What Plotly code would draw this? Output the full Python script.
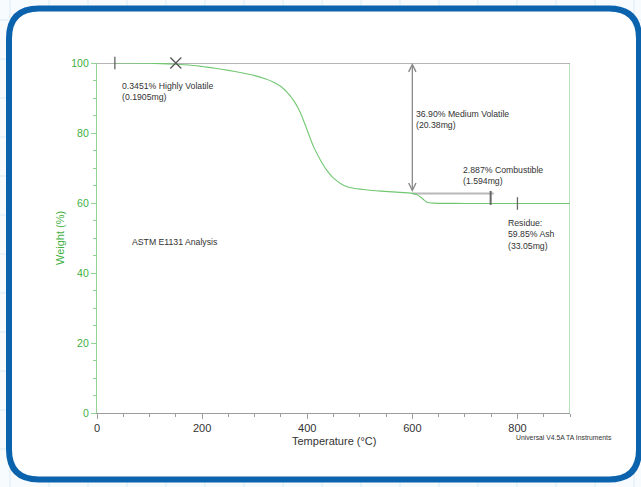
import plotly.graph_objects as go

# TGA trace: temperature (°C) vs. weight (%)
temperature = [35, 100, 150, 175, 200, 225, 250, 275, 300, 320, 335, 350, 362, 375, 387,
               400, 412, 425, 437, 450, 469, 488, 510, 540, 570, 600, 608, 615, 622,
               628, 640, 660, 700, 800, 900]
weight = [100.0, 99.95, 99.65, 99.45, 99.0, 98.5, 97.9, 97.2, 96.4, 95.5, 94.6, 93.3,
          91.6, 89.1, 85.8, 80.8, 76.1, 72.3, 69.4, 67.1, 65.1, 64.2, 63.8, 63.4, 63.1,
          62.75, 62.4, 61.8, 60.9, 60.2, 59.95, 59.9, 59.87, 59.86, 59.85]

# ASTM E1131 step analysis
step_start_temp = 34
step_temps = [150, 600, 750, 800]          # end of each region
step_levels = [100.0, 99.65, 62.75, 59.86]  # plateau weights
step_names = ["Highly Volatile", "Medium Volatile", "Combustible"]
step_pct = ["0.3451%", "36.90%", "2.887%"]
step_mg = ["0.1905mg", "20.38mg", "1.594mg"]
residue_pct = "59.85%"
residue_mg = "33.05mg"

x_ticks = [0, 200, 400, 600, 800]
y_ticks = [0, 20, 40, 60, 80, 100]
x_range = [0, 900]
y_range = [0, 100]

W, H = 641, 487
ML, MR, MT, MB = 97, 71, 63, 74
PW, PH = W - ML - MR, H - MT - MB


def px(x):
    return (x - ML) / PW


def py(y):
    return (H - MB - y) / PH


GREEN_AX = "#93d393"
GREEN_TXT = "#3fb03f"
GREEN_LINE = "#72c872"
GRAY = "#9c9c9c"
TXT = "#333333"
FONT = "Liberation Sans, Arial, sans-serif"

fig = go.Figure()

shapes = []
# graph-paper backdrop
for gx in range(10, W + 40, 39):
    shapes.append(dict(type="line", xref="paper", yref="paper", x0=px(gx), x1=px(gx),
                       y0=py(0), y1=py(H), line=dict(color="#d9ecf7", width=1), layer="below"))
for gy in range(20, H + 40, 39):
    shapes.append(dict(type="line", xref="paper", yref="paper", x0=px(0), x1=px(W),
                       y0=py(gy), y1=py(gy), line=dict(color="#d9ecf7", width=1), layer="below"))

# rounded white card with blue frame
cx0, cy0, cx1, cy1, r = 9, 8.5, 639, 479.5, 30
card = (f"M {px(cx0 + r)},{py(cy0)} L {px(cx1 - r)},{py(cy0)} "
        f"Q {px(cx1)},{py(cy0)} {px(cx1)},{py(cy0 + r)} "
        f"L {px(cx1)},{py(cy1 - r)} Q {px(cx1)},{py(cy1)} {px(cx1 - r)},{py(cy1)} "
        f"L {px(cx0 + r)},{py(cy1)} Q {px(cx0)},{py(cy1)} {px(cx0)},{py(cy1 - r)} "
        f"L {px(cx0)},{py(cy0 + r)} Q {px(cx0)},{py(cy0)} {px(cx0 + r)},{py(cy0)} Z")
shapes.append(dict(type="path", xref="paper", yref="paper", path=card,
                   fillcolor="white", line=dict(color="#0b62ad", width=6), layer="below"))

# frame pieces of the plot
shapes.append(dict(type="line", xref="x", yref="y", x0=x_range[1], x1=x_range[1],
                   y0=y_range[0], y1=y_range[1], line=dict(color=GREEN_AX, width=1.3), layer="below"))
shapes.append(dict(type="line", xref="x", yref="y", x0=x_range[0], x1=x_range[1],
                   y0=step_levels[0], y1=step_levels[0], line=dict(color=GRAY, width=1.6), layer="below"))
shapes.append(dict(type="line", xref="x", yref="y", x0=step_temps[1], x1=step_temps[2] + 5,
                   y0=step_levels[2], y1=step_levels[2], line=dict(color="#b8b8b8", width=2), layer="below"))

fig.add_trace(go.Scatter(x=temperature, y=weight, mode="lines",
                         line=dict(color=GREEN_LINE, width=1.1, shape="spline", smoothing=0.6),
                         hoverinfo="skip", cliponaxis=False))

# step markers
marker_kw = dict(mode="markers", cliponaxis=False, hoverinfo="skip")
fig.add_trace(go.Scatter(x=[step_start_temp], y=[step_levels[0]],
                         marker=dict(symbol="line-ns", size=9, line=dict(color="#555", width=1.2)),
                         **marker_kw))
fig.add_trace(go.Scatter(x=[step_temps[0]], y=[step_levels[0]],
                         marker=dict(symbol="x-thin", size=11, line=dict(color="#555", width=1.2)),
                         **marker_kw))
fig.add_trace(go.Scatter(x=[step_temps[2] - 1], y=[step_levels[2] - 1.3],
                         marker=dict(symbol="line-ns", size=10, line=dict(color="#666", width=2)),
                         **marker_kw))
fig.add_trace(go.Scatter(x=[step_temps[3]], y=[step_levels[3]],
                         marker=dict(symbol="line-ns", size=9, line=dict(color="#666", width=1.3)),
                         **marker_kw))

annotations = []
# double-headed dimension arrow for the medium volatile step
annotations.append(dict(x=step_temps[1], y=step_levels[0], ax=step_temps[1], ay=step_levels[2],
                        xref="x", yref="y", axref="x", ayref="y", text="", showarrow=True,
                        arrowhead=5, startarrowhead=5, arrowside="end+start", arrowsize=1.1,
                        startarrowsize=1.1, arrowwidth=1.3, arrowcolor="#8a8a8a",
                        standoff=0, startstandoff=0))

afont = dict(family=FONT, size=8.7, color=TXT)
label_pos = [(43, 91.9), (603, 84.0), (693, 67.8)]
for (lx, ly), p, n, m in zip(label_pos, step_pct, step_names, step_mg):
    annotations.append(dict(x=lx, y=ly, xref="x", yref="y", xanchor="left", yanchor="middle",
                            align="left", showarrow=False, text=f"{p} {n}<br>({m})", font=afont))
annotations.append(dict(x=778, y=50.9, xref="x", yref="y", xanchor="left", yanchor="middle",
                        align="left", showarrow=False,
                        text=f"Residue:<br>{residue_pct} Ash<br>({residue_mg})", font=afont))
annotations.append(dict(x=62, y=48.9, xref="x", yref="y", xanchor="left", yanchor="middle",
                        showarrow=False, text="ASTM E1131 Analysis", font=afont))
annotations.append(dict(x=px(514), y=py(437), xref="paper", yref="paper", xanchor="left",
                        yanchor="middle", showarrow=False, text="Universal V4.5A TA Instruments",
                        font=dict(family=FONT, size=6.8, color=TXT)))
annotations.append(dict(x=0.5, y=py(441), xref="paper", yref="paper", xanchor="center",
                        yanchor="middle", showarrow=False, text="Temperature (°C)",
                        font=dict(family=FONT, size=11, color=TXT)))
annotations.append(dict(x=px(60), y=0.5, xref="paper", yref="paper", xanchor="center",
                        yanchor="middle", showarrow=False, text="Weight (%)", textangle=-90,
                        font=dict(family=FONT, size=11, color=GREEN_TXT)))

fig.update_layout(
    width=W, height=H,
    margin=dict(l=ML, r=MR, t=MT, b=MB, pad=0),
    paper_bgcolor="#f8fbfe",
    plot_bgcolor="rgba(0,0,0,0)",
    showlegend=False,
    shapes=shapes,
    annotations=annotations,
    font=dict(family=FONT),
    xaxis=dict(range=x_range, tickvals=x_ticks, showgrid=False, zeroline=False,
               showline=True, linecolor=GRAY, linewidth=1.3, ticks="outside", ticklen=5,
               tickcolor=GRAY, tickwidth=1,
               minor=dict(dtick=50, ticks="outside", ticklen=3, tickcolor=GRAY),
               tickfont=dict(size=11, color=TXT, family=FONT), fixedrange=True),
    yaxis=dict(range=y_range, tickvals=y_ticks, showgrid=False, zeroline=False,
               showline=True, linecolor=GREEN_AX, linewidth=1.3, ticks="outside", ticklen=5,
               tickcolor=GREEN_AX, tickwidth=1,
               minor=dict(dtick=5, ticks="outside", ticklen=3, tickcolor=GREEN_AX),
               tickfont=dict(size=10.5, color=GREEN_TXT, family=FONT), fixedrange=True),
)

fig.write_html("out.html")
